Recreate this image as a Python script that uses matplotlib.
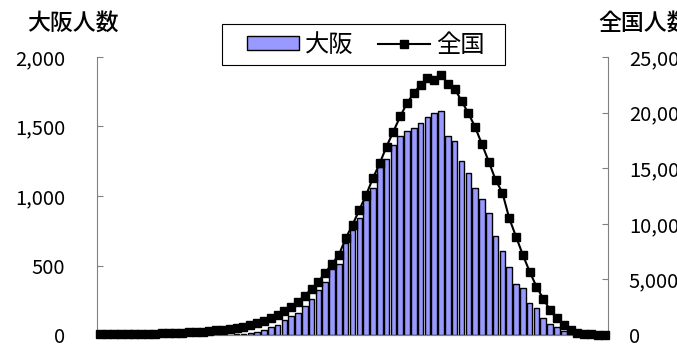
import numpy as np
import matplotlib
matplotlib.use("Agg")
import matplotlib.pyplot as plt
from matplotlib.ticker import FuncFormatter
from matplotlib.patches import Rectangle

plt.rcParams['font.family'] = ['Noto Sans CJK JP', 'DejaVu Sans']

# daily counts (index = day)
osaka = [0, 0, 0, 0, 0, 0, 0, 0, 0, 0,
         0, 0, 0, 0, 0, 1, 1, 2, 2, 3,
         4, 7, 12, 22, 38, 55, 75, 105, 135, 160,
         210, 258, 326, 384, 478, 510, 664, 755, 839, 971,
         1059, 1210, 1263, 1366, 1431, 1469, 1491, 1522, 1570, 1594,
         1613, 1431, 1395, 1251, 1167, 1059, 978, 875, 710, 605,
         491, 367, 340, 228, 192, 120, 82, 58, 28, 15,
         8, 4, 2, 1, 1]
zenkoku = [60, 60, 70, 70, 80, 90, 100, 110, 120, 140,
           160, 180, 210, 240, 270, 310, 360, 420, 480, 560,
           650, 760, 890, 1050, 1250, 1500, 1800, 2150, 2550, 3000,
           3550, 4150, 4800, 5600, 6400, 7200, 8700, 9900, 11250, 12600,
           14100, 15450, 16950, 18300, 19650, 20850, 21750, 22500, 23100, 22950,
           23400, 22600, 22150, 21050, 19950, 18700, 17150, 15600, 13950, 12800,
           10500, 8850, 7200, 5700, 4350, 3250, 2250, 1500, 900, 480,
           200, 100, 60, 30, 20]
days = np.arange(len(osaka))

left_ticks = [0, 500, 1000, 1500, 2000]
right_ticks = [0, 5000, 10000, 15000, 20000, 25000]

fig = plt.figure(figsize=(6.77, 3.49), dpi=100)
ax = fig.add_axes([97 / 677, 14 / 349, 511 / 677, 278 / 349])
ax2 = ax.twinx()

bars = ax.bar(days, osaka, width=0.82, color='#9999ff', edgecolor='black',
              linewidth=1.0, label='大阪', zorder=2)
line, = ax2.plot(days, zenkoku, color='black', linewidth=1.5, marker='s',
                 markersize=6, label='全国', zorder=3, clip_on=False)

ax.set_xlim(-0.5, len(days) - 0.5)
ax.set_ylim(0, 2000)
ax2.set_ylim(0, 25000)
ax.set_yticks(left_ticks)
ax2.set_yticks(right_ticks)
fmt = FuncFormatter(lambda v, p: f"{int(v):,}")
ax.yaxis.set_major_formatter(fmt)
ax2.yaxis.set_major_formatter(fmt)
ax.set_xticks([])

for a in (ax, ax2):
    a.spines['top'].set_visible(False)
    for s in ('left', 'right', 'bottom'):
        a.spines[s].set_color('#808080')
ax.spines['right'].set_visible(False)
ax2.spines['left'].set_visible(False)

ax.tick_params(axis='y', direction='in', length=4, color='#808080',
               labelsize=14.5, pad=23)
ax2.tick_params(axis='y', direction='in', length=4, color='#808080',
                labelsize=14.5, pad=15)

# put the line above the bars
ax.set_zorder(1)
ax2.set_zorder(2)
ax.patch.set_visible(False)

fig.text(27 / 677, 1 - 23 / 349, '大阪人数', fontsize=16.5, fontweight='medium',
         ha='left', va='center')
fig.text(598 / 677, 1 - 23 / 349, '全国人数', fontsize=16.5, fontweight='medium',
         ha='left', va='center')

# legend box drawn separately so its padding matches
fig.patches.append(Rectangle((222 / 677, 1 - 65 / 349), 283 / 677, 41 / 349,
                             transform=fig.transFigure, facecolor='white',
                             edgecolor='black', linewidth=0.8, zorder=5))
leg = fig.legend([bars, line], ['大阪', '全国'], loc='center',
                 bbox_to_anchor=(366 / 677, 1 - 45 / 349), ncol=2,
                 fontsize=17.5, frameon=False, handlelength=2.15,
                 handleheight=0.5, columnspacing=1.0,
                 handletextpad=0.25, borderpad=0.2)
leg.set_zorder(6)

fig.savefig('out.png', dpi=100)
